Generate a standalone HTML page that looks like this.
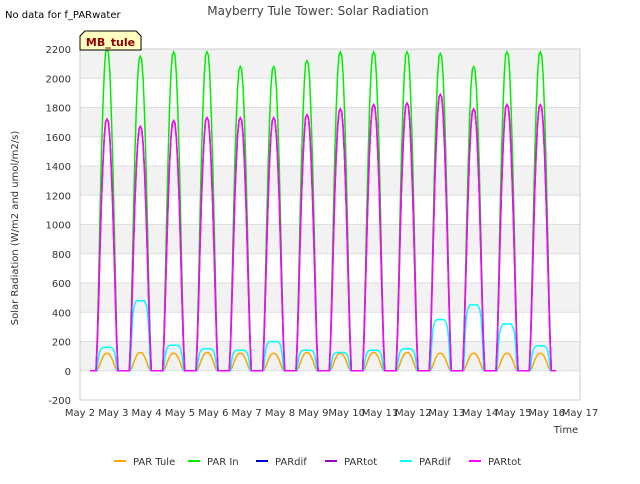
<!DOCTYPE html>
<html><head><meta charset="utf-8"><style>
body{margin:0;background:#fff;font-family:"DejaVu Sans","Liberation Sans",sans-serif}
</style></head><body>
<svg id="c" width="640" height="480" xmlns="http://www.w3.org/2000/svg" font-family="DejaVu Sans, Liberation Sans, sans-serif">
<rect x="0" y="0" width="640" height="480" fill="#fff"/>
<g id="grid"></g>
<g id="series"></g>
<g id="axes"></g>
<text x="5" y="18" font-size="10" fill="#000">No data for f_PARwater</text>
<text x="318" y="15" font-size="12" fill="#444" text-anchor="middle">Mayberry Tule Tower: Solar Radiation</text>
<g>
<path d="M80,50 L80,36 L85,31 L136,31 L141,36 L141,50 Z" fill="#ffffc0" stroke="#000" stroke-width="1"/>
<text x="110.5" y="46" font-size="11" font-weight="bold" fill="#8b0000" text-anchor="middle">MB_tule</text>
</g>
<text x="18" y="228" font-size="10" fill="#333" text-anchor="middle" transform="rotate(-90 18 228)">Solar Radiation (W/m2 and umol/m2/s)</text>
<text x="566" y="433" font-size="10" fill="#333" text-anchor="middle">Time</text>
<g id="legend"></g>
</svg>
<script>
const yTicks=[-200,0,200,400,600,800,1000,1200,1400,1600,1800,2000,2200];
const xTickLabels=["May 2","May 3","May 4","May 5","May 6","May 7","May 8","May 9","May 10","May 11","May 12","May 13","May 14","May 15","May 16","May 17"];
const parInPeaks=[2200,2150,2180,2180,2080,2080,2120,2180,2180,2180,2170,2080,2180,2180];
const parTotPeaks=[1720,1670,1710,1730,1730,1730,1750,1790,1820,1830,1890,1790,1820,1820];
const parTulePeaks=[120,125,120,125,120,120,125,120,125,125,120,120,120,120];
const parDifPeaks=[160,480,175,150,140,200,140,125,140,150,350,450,320,170];
const profile=[0,0.12,0.3,0.5,0.68,0.82,0.93,0.99,1,0.99,0.93,0.82,0.68,0.5,0.3,0.12,0];
const difProfile=[0,0.5,0.8,0.92,0.97,1,1,1,1,1,1,1,0.97,0.92,0.8,0.5,0];
const NS="http://www.w3.org/2000/svg";
const X0=80,X1=580,Y0=49,Y1=400;
const xs=d=>X0+(d/15)*(X1-X0);
const ys=v=>Y1-(v+200)/2400*(Y1-Y0);
function mk(t,a,p){const e=document.createElementNS(NS,t);for(const k in a)e.setAttribute(k,a[k]);p.appendChild(e);return e;}
const grid=document.getElementById('grid'),axes=document.getElementById('axes'),ser=document.getElementById('series'),leg=document.getElementById('legend');
mk('rect',{x:X0,y:Y0,width:X1-X0,height:Y1-Y0,fill:'#fff'},grid);
for(let i=0;i<yTicks.length-1;i++){if(i%2==1){const r=mk('rect',{x:X0,y:ys(yTicks[i+1]),width:X1-X0,height:ys(yTicks[i])-ys(yTicks[i+1]),fill:'#f2f2f2'},grid);}}
yTicks.forEach(v=>{const l=mk('line',{x1:X0,x2:X1,y1:ys(v),y2:ys(v),stroke:'#ddd','stroke-width':1},grid);
const t=mk('text',{x:X0-9,y:ys(v)+4,'font-size':10,fill:'#333','text-anchor':'end'},axes);t.textContent=v;});
xTickLabels.forEach((s,i)=>{const t=mk('text',{x:xs(i),y:416,'font-size':10,fill:'#333','text-anchor':'middle'},axes);t.textContent=s;});
mk('rect',{x:X0,y:Y0,width:X1-X0,height:Y1-Y0,fill:'none',stroke:'#ccc'},axes);
function series(peaks,prof,color,name,half){let pts=[[xs(0.3),ys(0)]];
peaks.forEach((p,d)=>{const c=d+0.81;pts.push([xs(c-half),ys(0)]);prof.forEach((f,k)=>{const t=c-half+2*half*k/(prof.length-1);pts.push([xs(t),ys(p*f)]);});pts.push([xs(c+half),ys(0)]);});
pts.push([xs(14.28),ys(0)]);
const pl=mk('polyline',{points:pts.map(q=>q[0].toFixed(1)+','+q[1].toFixed(1)).join(' '),fill:'none',stroke:color,'stroke-width':1.5},ser);}
series(parTulePeaks,profile,'#ffa500','par-tule-line',0.3);
series(parInPeaks,profile,'#00ee00','par-in-line',0.33);
series(parDifPeaks,difProfile,'#00ffff','pardif-line',0.3);
series(parTotPeaks,profile,'#9900cc','partot-line',0.33);
series(parTotPeaks,profile,'#ff00ff','partot2-line',0.33);
const legItems=[["PAR Tule","#ffa500"],["PAR In","#00ee00"],["PARdif","#0000cc"],["PARtot","#9900cc"],["PARdif","#00ffff"],["PARtot","#ff00ff"]];
const lx=[114,188,256,325,400,469];
legItems.forEach((it,i)=>{const g=mk('g',{},leg);
mk('line',{x1:lx[i],x2:lx[i]+12,y1:461,y2:461,stroke:it[1],'stroke-width':2},g);
const t=mk('text',{x:lx[i]+19,y:465,'font-size':10,fill:'#333'},g);t.textContent=it[0];});
</script>
</body></html>
